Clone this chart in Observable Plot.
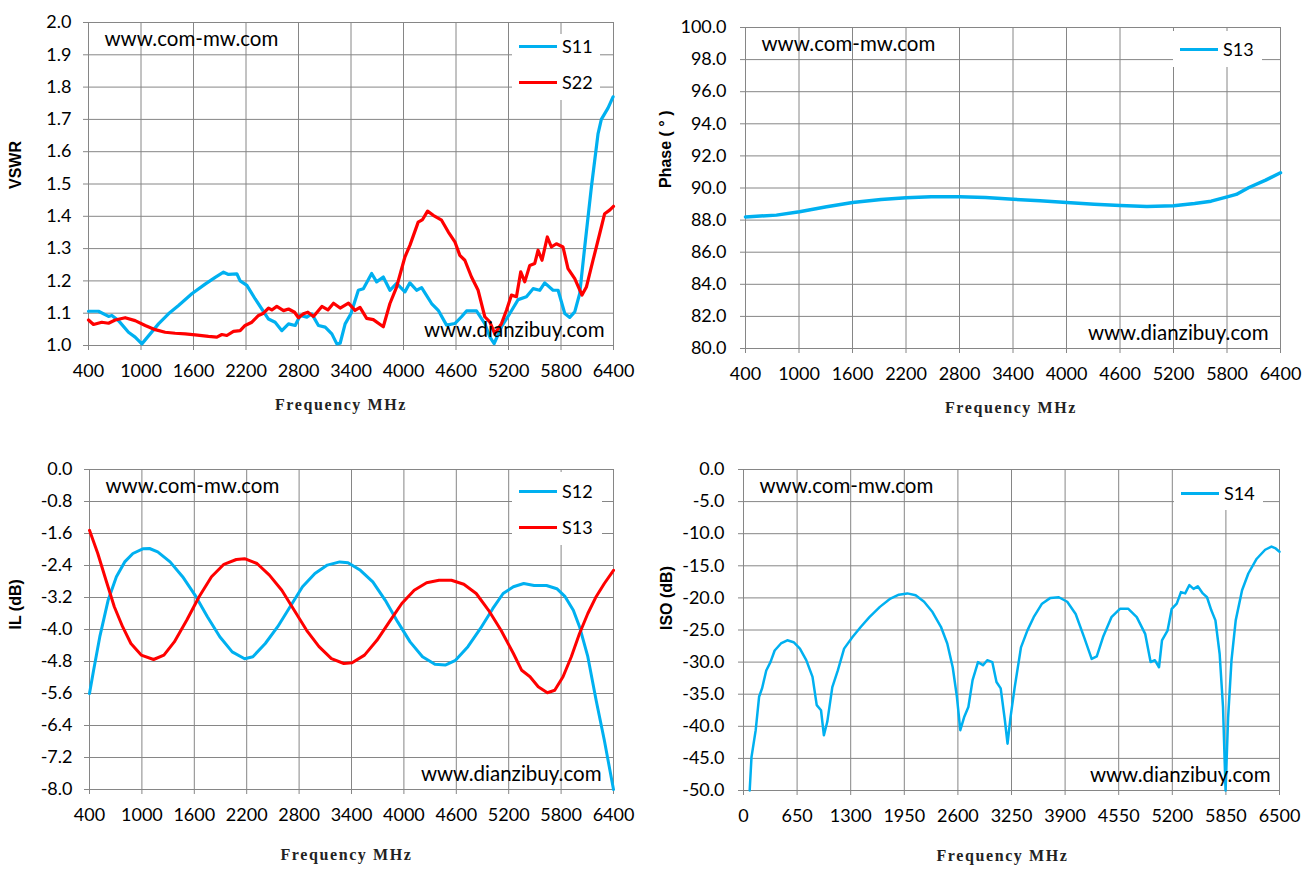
<!DOCTYPE html>
<html><head><meta charset="utf-8">
<script src="https://cdn.jsdelivr.net/npm/d3@7"></script>
<script src="https://cdn.jsdelivr.net/npm/@observablehq/plot@0.6"></script>
<style>
body{margin:0;background:#fff;}
#root{position:relative;width:1306px;height:872px;overflow:hidden;background:#fff;}
.panel{position:absolute;}
.legend{position:absolute;background:#fff;font-family:Lato,"Noto Sans",sans-serif;font-size:18px;color:#000;}
.item{position:absolute;display:flex;align-items:center;white-space:nowrap;}
.swatch{width:38px;height:0;border-top:3px solid;margin-right:5px;}
</style></head>
<body><div id="root"></div>
<script>
// ---------- data ----------
const freqTicks = [400,1000,1600,2200,2800,3400,4000,4600,5200,5800,6400];
const isoFreqTicks = [0,650,1300,1950,2600,3250,3900,4550,5200,5850,6500];
const vswrTicks = [1.0,1.1,1.2,1.3,1.4,1.5,1.6,1.7,1.8,1.9,2.0];
const phaseTicks = [80,82,84,86,88,90,92,94,96,98,100];
const ilTicks = [0,-0.8,-1.6,-2.4,-3.2,-4.0,-4.8,-5.6,-6.4,-7.2,-8.0];
const isoTicks = [0,-5,-10,-15,-20,-25,-30,-35,-40,-45,-50];

const s11Freq = [400,514,629,667,743,857,933,1010,1105,1200,1314,1429,1581,1733,1848,1943,2000,2095,2133,2210,2305,2381,2457,2533,2610,2686,2762,2819,2895,2952,3028,3105,3181,3238,3276,3333,3400,3484,3541,3636,3693,3769,3845,3921,4016,4073,4150,4207,4321,4397,4492,4587,4663,4720,4834,4929,4986,5036,5120,5215,5310,5405,5481,5557,5614,5709,5767,5843,5900,5957,6014,6071,6147,6223,6261,6337,6395];
const s11Vswr = [1.106,1.106,1.09,1.093,1.077,1.041,1.026,1.005,1.036,1.067,1.098,1.124,1.16,1.19,1.211,1.227,1.22,1.222,1.2,1.186,1.144,1.113,1.082,1.072,1.046,1.067,1.062,1.093,1.088,1.098,1.062,1.057,1.036,1.005,1.007,1.067,1.099,1.171,1.176,1.223,1.197,1.212,1.171,1.192,1.166,1.194,1.171,1.179,1.13,1.109,1.063,1.068,1.089,1.107,1.107,1.068,1.027,1.006,1.058,1.099,1.142,1.151,1.176,1.171,1.194,1.171,1.171,1.099,1.087,1.104,1.161,1.305,1.49,1.655,1.7,1.735,1.77];

const s22Freq = [400,457,552,629,705,819,933,1048,1162,1276,1390,1505,1619,1771,1867,1924,1981,2057,2133,2190,2267,2343,2400,2457,2495,2552,2629,2686,2755,2800,2857,2907,2971,3067,3136,3200,3276,3371,3446,3503,3579,3655,3769,3845,3921,4016,4073,4168,4218,4275,4340,4435,4511,4587,4644,4701,4777,4853,4929,4986,5043,5120,5177,5234,5291,5340,5386,5443,5500,5538,5583,5644,5690,5747,5823,5880,5957,6040,6090,6166,6242,6299,6356,6400];
const s22Vswr = [1.079,1.065,1.072,1.069,1.079,1.086,1.077,1.062,1.049,1.041,1.038,1.036,1.033,1.028,1.026,1.034,1.031,1.044,1.046,1.062,1.072,1.093,1.1,1.116,1.11,1.121,1.108,1.113,1.103,1.086,1.098,1.103,1.09,1.121,1.11,1.131,1.116,1.131,1.109,1.118,1.084,1.08,1.058,1.13,1.181,1.274,1.31,1.382,1.39,1.416,1.403,1.388,1.352,1.321,1.279,1.264,1.212,1.171,1.089,1.073,1.037,1.068,1.109,1.156,1.151,1.228,1.197,1.248,1.254,1.295,1.264,1.336,1.305,1.315,1.305,1.238,1.207,1.156,1.181,1.264,1.346,1.408,1.419,1.431];

const phaseFreq = [400,747,1005,1310,1601,1920,2201,2482,2801,3092,3402,3702,4002,4311,4602,4902,5202,5437,5622,5802,5904,6046,6234,6400];
const phaseS13 = [88.2,88.31,88.52,88.83,89.1,89.28,89.39,89.45,89.45,89.41,89.3,89.2,89.1,88.99,88.91,88.85,88.89,89.03,89.18,89.45,89.6,90.03,90.49,90.95];

const s12Freq = [400,447,518,613,708,803,897,1016,1087,1181,1323,1466,1608,1750,1892,2034,2176,2271,2413,2555,2697,2839,2981,3123,3265,3360,3502,3644,3787,3929,4071,4213,4355,4473,4591,4733,4875,5017,5136,5254,5372,5491,5633,5751,5846,5940,6011,6106,6201,6295,6400];
const s12IL = [-5.6,-5.02,-4.18,-3.27,-2.68,-2.31,-2.1,-1.98,-1.975,-2.06,-2.31,-2.68,-3.14,-3.68,-4.18,-4.56,-4.73,-4.68,-4.35,-3.93,-3.43,-2.93,-2.6,-2.39,-2.31,-2.33,-2.52,-2.81,-3.27,-3.81,-4.31,-4.68,-4.87,-4.89,-4.77,-4.43,-3.98,-3.48,-3.1,-2.93,-2.85,-2.9,-2.9,-2.98,-3.18,-3.52,-3.93,-4.68,-5.77,-6.77,-8.0];

const s13Freq = [400,495,589,684,779,874,992,1134,1252,1371,1513,1655,1797,1939,2081,2176,2318,2460,2602,2744,2886,3028,3170,3312,3407,3549,3691,3833,3976,4118,4260,4402,4544,4686,4828,4970,5112,5254,5349,5444,5538,5643,5727,5822,5917,6011,6106,6201,6295,6400];
const s13IL = [-1.52,-2.1,-2.77,-3.43,-3.93,-4.35,-4.64,-4.75,-4.64,-4.31,-3.77,-3.18,-2.68,-2.37,-2.25,-2.23,-2.35,-2.64,-3.02,-3.52,-4.02,-4.43,-4.73,-4.85,-4.83,-4.64,-4.27,-3.81,-3.35,-3.02,-2.83,-2.77,-2.77,-2.87,-3.1,-3.52,-4.02,-4.6,-5.02,-5.18,-5.43,-5.58,-5.52,-5.18,-4.68,-4.1,-3.6,-3.18,-2.85,-2.52];

const s14Freq = [75,97,148,189,225,276,327,378,454,531,608,684,761,837,888,940,975,1016,1077,1144,1220,1322,1424,1527,1654,1782,1884,1986,2088,2190,2292,2394,2471,2537,2588,2629,2675,2727,2778,2844,2905,2956,3017,3068,3119,3170,3202,3238,3289,3365,3442,3519,3620,3722,3824,3926,4028,4130,4222,4284,4360,4462,4565,4667,4769,4871,4937,4988,5039,5075,5142,5193,5254,5305,5356,5407,5458,5509,5570,5621,5672,5723,5774,5815,5846,5877,5918,5969,6046,6122,6224,6326,6403,6454,6500];
const s14Iso = [-50,-44.8,-40.6,-35.4,-34.1,-31.3,-30,-28.2,-27.1,-26.6,-26.9,-27.9,-29.7,-32.3,-36.7,-37.5,-41.4,-39.3,-33.9,-31.3,-27.9,-26.1,-24.5,-23,-21.4,-20.1,-19.5,-19.3,-19.6,-20.6,-22.2,-24.5,-27.1,-30.8,-35.4,-40.6,-38.6,-37,-32.8,-30,-30.5,-29.7,-30,-33.1,-34.1,-39.1,-42.7,-38.6,-33.9,-27.7,-25.1,-23,-20.9,-20,-19.9,-20.6,-22.5,-26.1,-29.5,-29.1,-26.1,-23,-21.7,-21.7,-23,-25.6,-30,-29.7,-30.8,-26.6,-25.1,-21.7,-20.9,-19.1,-19.3,-18,-18.6,-18.2,-19.3,-19.9,-21.9,-23.5,-28.7,-37,-50,-38.6,-29.7,-23.5,-18.8,-16.2,-13.9,-12.5,-12,-12.3,-12.8];

const BLUE = "#00B0F0", RED = "#FF0000", GRID = "#868686";
const TICK_FONT = "Lato, 'Noto Sans', sans-serif";
const X_TITLE = "Frequency MHz";

function rows(fs, vs){ return fs.map((f,i)=>({f, v: vs[i]})); }

function panel(cfg){
  const W = 653, H = 436;
  const marks = [
    Plot.gridX(cfg.xTicks, {stroke: GRID, strokeOpacity: 1, strokeWidth: 1}),
    Plot.gridY(cfg.yTicks, {stroke: GRID, strokeOpacity: 1, strokeWidth: 1}),
    Plot.axisX(cfg.xTicks, {tickSize: 5, tickPadding: 14, stroke: GRID, fill: "#000", tickFormat: d => String(d), label: null, fontSize: 18, fontFamily: TICK_FONT}),
    Plot.axisY(cfg.yTicks, {tickSize: 5, tickPadding: cfg.yPad, stroke: GRID, fill: "#000", tickFormat: d => d.toFixed(1), label: null, fontSize: 18, fontFamily: TICK_FONT}),
    ...cfg.series.map(s => Plot.line(rows(s.f, s.v), {x: "f", y: "v", stroke: s.color, strokeWidth: s.width || 3, strokeLinejoin: "round"})),
    Plot.text([cfg.yTitle], {frameAnchor: "left", text: d => d, rotate: -90, dx: cfg.yTitleDx, dy: cfg.yTitleDy || 0, fontWeight: "bold", fontSize: 16, fontFamily: "'Liberation Sans', Arial, sans-serif", fill: "#000"}),
    Plot.text([X_TITLE], {frameAnchor: "bottom", text: d => d, dx: cfg.xTitleDx, dy: cfg.xTitleDy, lineAnchor: "middle", textAnchor: "middle", fontWeight: "bold", fontSize: 16, fontFamily: "'Liberation Serif', 'DejaVu Serif', serif", fill: "#222"}),
    Plot.text(["www.com-mw.com"], {frameAnchor: "top-left", text: d => d, dx: 16, dy: 17, textAnchor: "start", lineAnchor: "middle", fontSize: 20.5, fontFamily: TICK_FONT, fill: "#000"}),
    Plot.text(["www.dianzibuy.com"], {frameAnchor: "bottom-right", text: d => d, dx: cfg.wmDx, dy: -15, textAnchor: "end", lineAnchor: "middle", fontSize: 20.5, fontFamily: TICK_FONT, fill: "#000"})
  ];
  const svg = Plot.plot({
    width: W, height: H,
    marginLeft: cfg.m[0], marginRight: cfg.m[1], marginTop: cfg.m[2], marginBottom: cfg.m[3],
    x: {domain: cfg.xDomain},
    y: {domain: cfg.yDomain},
    style: {background: "transparent", fontFamily: TICK_FONT, fontSize: "18px", color: "#000", overflow: "visible"},
    marks
  });
  d3.select(svg).selectAll("text").filter(function(){ return this.textContent === X_TITLE; }).attr("letter-spacing", "1.6px");
  const div = document.createElement("div");
  div.className = "panel";
  div.style.left = cfg.left + "px"; div.style.top = cfg.top + "px";
  div.appendChild(svg);
  const lg = document.createElement("div");
  lg.className = "legend";
  const b = cfg.legendBox;
  lg.style.left = b[0] + "px"; lg.style.top = b[1] + "px"; lg.style.width = b[2] + "px"; lg.style.height = b[3] + "px";
  cfg.series.forEach((s, i) => {
    const it = document.createElement("div");
    it.className = "item";
    it.style.left = "7px"; it.style.top = (cfg.legendY[i] - 11) + "px"; it.style.height = "22px";
    const sw = document.createElement("div");
    sw.className = "swatch"; sw.style.borderTopColor = s.color;
    const tx = document.createElement("span");
    tx.textContent = s.name;
    it.appendChild(sw); it.appendChild(tx);
    lg.appendChild(it);
  });
  div.appendChild(lg);
  document.getElementById("root").appendChild(div);
}

panel({left: 0, top: 0, m: [88, 40, 22, 91], xDomain: [400, 6400], yDomain: [1, 2], xTicks: freqTicks, yTicks: vswrTicks, yPad: 12,
  yTitle: "VSWR", yTitleDx: -73, yTitleDy: 5, xTitleDx: -10, xTitleDy: 59, wmDx: -9,
  series: [{name: "S11", f: s11Freq, v: s11Vswr, color: BLUE, width: 3.2}, {name: "S22", f: s22Freq, v: s22Vswr, color: RED, width: 3.2}],
  legendBox: [512, 34, 88, 66], legendY: [12, 48]});

panel({left: 653, top: 0, m: [92, 26, 27, 88], xDomain: [400, 6400], yDomain: [80, 100], xTicks: freqTicks, yTicks: phaseTicks, yPad: 14,
  yTitle: "Phase ( ° )", yTitleDx: -80, yTitleDy: 0, xTitleDx: -2, xTitleDy: 59, wmDx: -12,
  series: [{name: "S13", f: phaseFreq, v: phaseS13, color: BLUE, width: 3.5}],
  legendBox: [520, 31, 89, 36], legendY: [18]});

panel({left: 0, top: 436, m: [89, 40, 33, 83], xDomain: [400, 6400], yDomain: [-8, 0], xTicks: freqTicks, yTicks: ilTicks, yPad: 12,
  yTitle: "IL (dB)", yTitleDx: -74, yTitleDy: 0, xTitleDx: -5, xTitleDy: 65, wmDx: -12,
  series: [{name: "S12", f: s12Freq, v: s12IL, color: BLUE}, {name: "S13", f: s13Freq, v: s13IL, color: RED}],
  legendBox: [512, 36, 90, 73], legendY: [19, 55]});

panel({left: 653, top: 436, m: [90, 27, 33, 82], xDomain: [0, 6500], yDomain: [-50, 0], xTicks: isoFreqTicks, yTicks: isoTicks, yPad: 14,
  yTitle: "ISO (dB)", yTitleDx: -77, yTitleDy: 0, xTitleDx: -9, xTitleDy: 65, wmDx: -9,
  series: [{name: "S14", f: s14Freq, v: s14Iso, color: BLUE, width: 2.5}],
  legendBox: [521, 34, 89, 40], legendY: [23]});
</script>
</body></html>
